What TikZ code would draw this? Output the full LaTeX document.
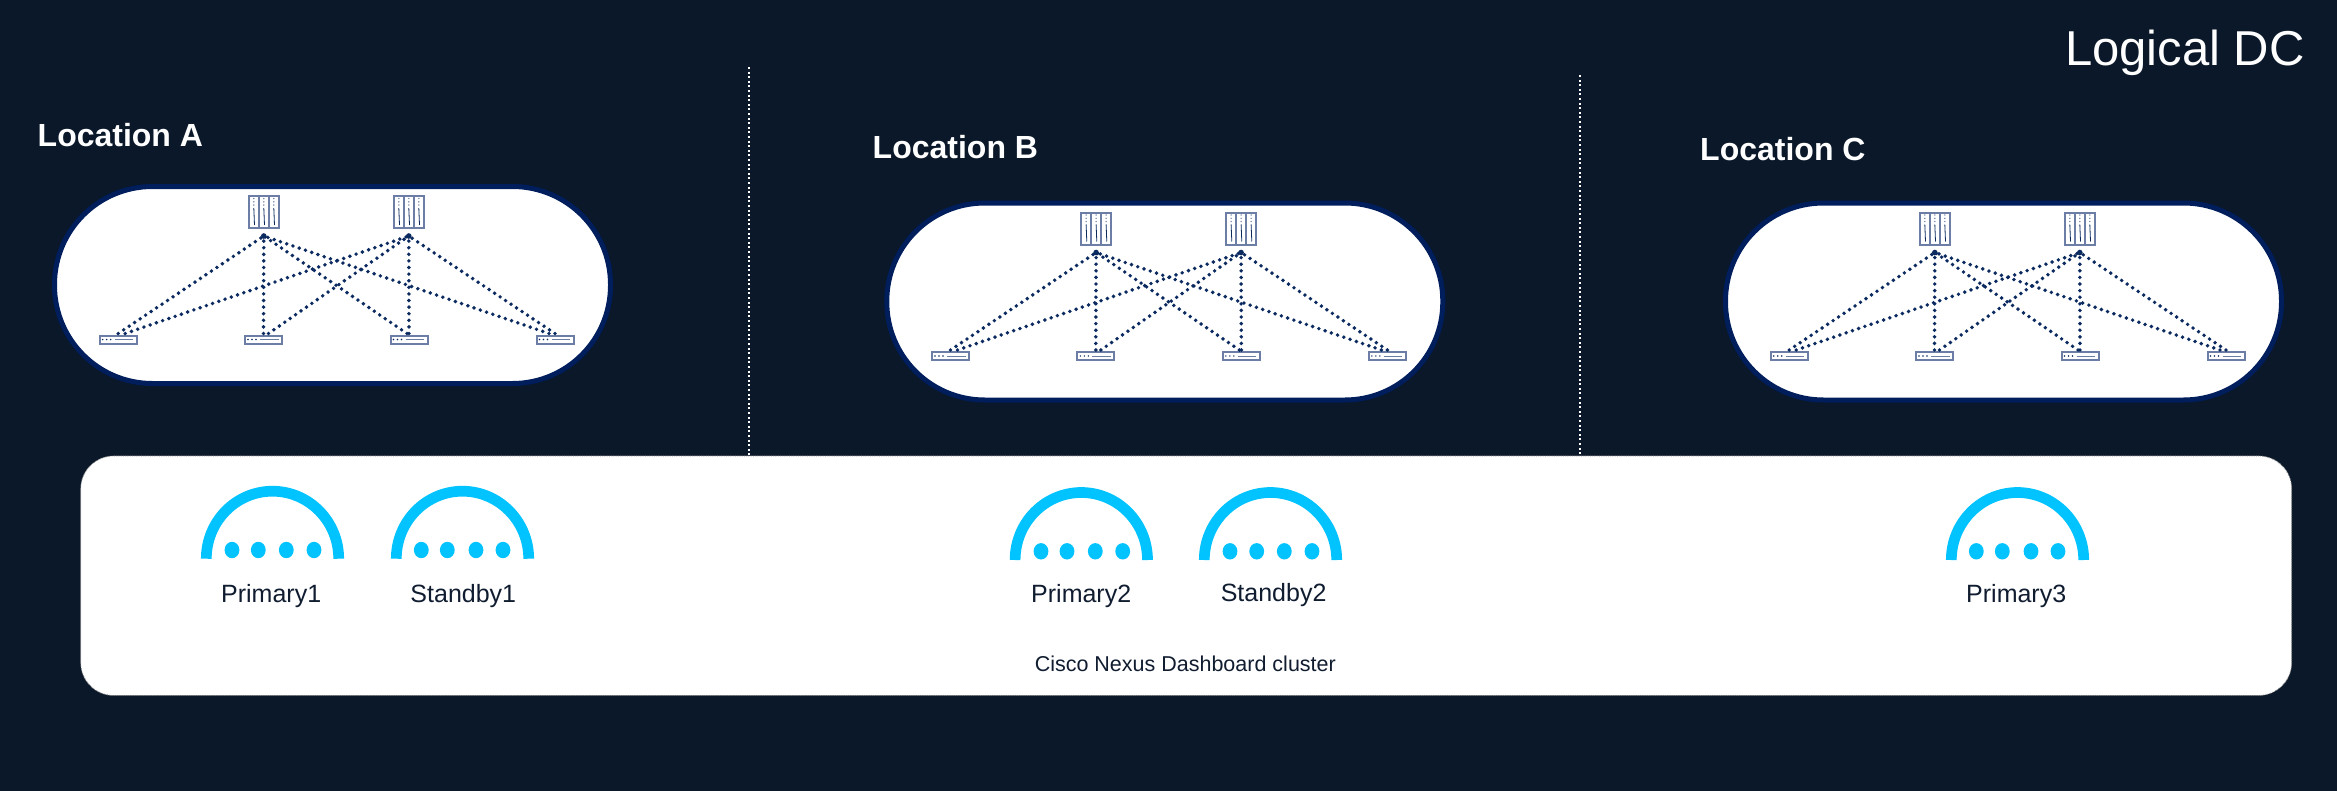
\documentclass[tikz,border=0pt]{standalone}
\usepackage{fontspec}
\setmainfont{Liberation Sans}
\definecolor{pagebg}{HTML}{0A1829}
\definecolor{podline}{HTML}{001D5C}
\definecolor{linkdot}{HTML}{0B2A60}
\definecolor{iconline}{HTML}{6C7DA6}
\definecolor{dishblue}{HTML}{00C3FF}
\definecolor{labeltext}{HTML}{101C30}
\tikzset{
	podbox/.style={draw=podline,fill=white,line width=5pt,rounded corners=98pt,minimum width=556pt,minimum height=197pt,inner sep=0pt},
	spinebox/.style={draw=iconline,fill=white,line width=2pt,minimum width=30pt,minimum height=32pt,inner sep=0pt,outer ysep=8pt},
	leafbox/.style={draw=iconline,fill=white,line width=2pt,minimum width=37pt,minimum height=8pt,inner sep=0pt,outer ysep=2pt},
	uplink/.style={draw=linkdot,line width=3.9pt,line cap=round,dash pattern=on 0pt off 6.6pt},
	sitelabel/.style={anchor=base west,inner sep=0pt,text=white,font=\bfseries\fontsize{32}{36}\selectfont},
	nodelabel/.style={anchor=base,inner sep=0pt,text=labeltext,font=\fontsize{25}{30}\selectfont},
	divider/.style={draw=white,line width=1.8pt,dash pattern=on 2pt off 2.6pt},
}
\begin{document}
\begin{tikzpicture}[x=1pt,y=-1pt]
	\useasboundingbox (0,0) rectangle (2337,790);
	\fill[pagebg] (-2,-2) rectangle (2339,792);
	\node[anchor=base east,inner sep=0pt,text=white,font=\fontsize{49}{54}\selectfont] (title) at (2305,65) {Logical DC};
	\draw[divider] (749,67) -- (749,456);
	\draw[divider] (1580,75) -- (1580,456);
	\node[sitelabel] (siteA) at (37.5,146) {Location A};
	\node[sitelabel] (siteB) at (872.5,158) {Location B};
	\node[sitelabel] (siteC) at (1700,160) {Location C};
	% the three pods are the same, only shifted
	\foreach \s/\dx/\dy in {A/0/0,B/832.3/16.5,C/1671/16.5} {
		\begin{scope}[shift={(\dx,\dy)}]
			\node[podbox] (pod\s) at (332.5,285) {};
			\foreach \i/\x in {1/263.8,2/408.8} {
				\node[spinebox] (spine\s\i) at (\x,212) {};
				\draw[iconline,line width=2pt] (\x-5,196) -- (\x-5,228) (\x+5,196) -- (\x+5,228);
				\foreach \c in {-10,0,10} {
					\foreach \h in {198.5,201.8,205} {\fill[iconline] (\x+\c,\h) circle (.8);}
					\draw[linkdot,line width=.8pt] (\x+\c,208) -- (\x+\c+.7,225);
				}
				\fill[linkdot] (spine\s\i.south) circle (2.8);
			}
			\foreach \i/\x in {1/118.2,2/263.5,3/409,4/555} {
				\node[leafbox] (leaf\s\i) at (\x,339.5) {};
				\foreach \c in {-15.5,-11.5,-7.5} {\fill[linkdot] (\x+\c,339.5) circle (.8);}
				\draw[iconline,line width=1pt] (\x-3.5,339.5) -- (\x+15,339.5);
			}
			\foreach \a/\b/\ox in {1/1/0,1/2/0,1/3/-2,1/4/-6,2/1/7,2/2/5,2/3/0,2/4/0} {
				\draw[uplink] ([xshift=\ox pt]leaf\s\b.north) -- (spine\s\a.south);
			}
		\end{scope}
	}
	\node[draw=gray,densely dotted,fill=white,line width=.8pt,rounded corners=33pt,minimum width=2211pt,minimum height=239.5pt,inner sep=0pt] (cluster) at (1186.2,575.7) {};
	\foreach \n/\t/\cx/\by/\dotA/\dotB/\dotC/\dotD in {
		P1/Primary1/272.5/558.7/232/258.3/286.3/314,
		S1/Standby1/462.5/558.7/421.3/447.3/476/503,
		P2/Primary2/1081.3/560/1041/1067/1095.3/1122.7,
		S2/Standby2/1270.5/560/1230/1256.7/1284.3/1312,
		P3/Primary3/2017.5/560/1976.3/2002.3/2031/2058} {
		\draw[dishblue,line width=10.7pt] (\cx-66.2,\by) arc (180:360:66.2 and 67.5);
		\foreach \d in {\dotA,\dotB,\dotC,\dotD} {\fill[dishblue] (\d,\by-8.7) ellipse (7.4 and 8.2);}
	}
	\node[nodelabel] (labelP1) at (271.2,602.7) {Primary1};
	\node[nodelabel] (labelS1) at (463.3,602.3) {Standby1};
	\node[nodelabel] (labelP2) at (1081.2,602.7) {Primary2};
	\node[nodelabel] (labelS2) at (1273.6,601.8) {Standby2};
	\node[nodelabel] (labelP3) at (2016.2,602.3) {Primary3};
	\node[nodelabel,font=\fontsize{21.5}{26}\selectfont] (clustername) at (1185.3,671.7) {Cisco Nexus Dashboard cluster};
\end{tikzpicture}
\end{document}
